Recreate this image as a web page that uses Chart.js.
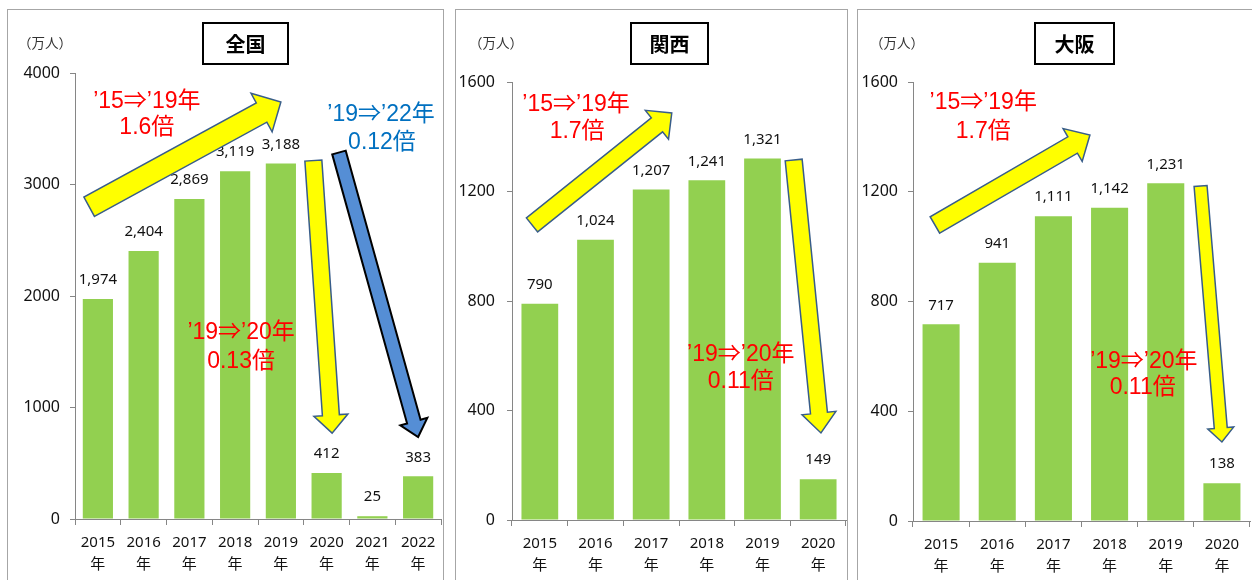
<!DOCTYPE html>
<html lang="ja">
<head>
<meta charset="utf-8">
<title>訪日外客数</title>
<script src="https://cdn.jsdelivr.net/npm/chart.js@4.4.1/dist/chart.umd.min.js"></script>
<style>
  body { margin: 0; width: 1252px; height: 580px; overflow: hidden; background: #fff; position: relative;
         font-family: "Noto Sans CJK JP", sans-serif; }
  .panel { position: absolute; top: 9px; height: 620px; border: 1.5px solid #a6a6a6; box-sizing: border-box; }
  .chart { position: absolute; top: 0; }
  .title { position: absolute; top: 22px; height: 43px; border: 2px solid #000; box-sizing: border-box;
           font-weight: bold; font-size: 20px; display: flex; align-items: center; justify-content: center; }
  .unit { position: absolute; top: 32px; font-size: 13.5px; color: #333; }
</style>
</head>
<body>
<div class="panel" style="left:7px;width:437px"></div>
<div class="panel" style="left:455px;width:393px"></div>
<div class="panel" style="left:857px;width:410px"></div>

<canvas id="zenkoku" class="chart" width="450" height="580" style="left:0"></canvas>
<canvas id="kansai" class="chart" width="400" height="580" style="left:450px"></canvas>
<canvas id="osaka" class="chart" width="402" height="580" style="left:850px"></canvas>

<div class="title" style="left:202px;width:87px">全国</div>
<div class="title" style="left:630px;width:79px">関西</div>
<div class="title" style="left:1034px;width:81px">大阪</div>
<div class="unit" style="left:18px">（万人）</div>
<div class="unit" style="left:469px">（万人）</div>
<div class="unit" style="left:870px">（万人）</div>

<script>
const years = ['2015', '2016', '2017', '2018', '2019', '2020', '2021', '2022'];
const regionYears = years.slice(0, 6);

const zenkokuValues = [1974, 2404, 2869, 3119, 3188, 412, 25, 383];
const kansaiValues = [790, 1024, 1207, 1241, 1321, 149];
const osakaValues = [717, 941, 1111, 1142, 1231, 138];

const zenkokuTicks = [0, 1000, 2000, 3000, 4000];
const regionTicks = [0, 400, 800, 1200, 1600];

// arrows and notes are placed in axis units: [category index, value]
const YELLOW = { fill: '#ffff00', stroke: '#385d8a', lineWidth: 1.5 };
const BLUE = { fill: '#558ed5', stroke: '#000000', lineWidth: 2 };
const RED = '#ff0000';
const TEAL = '#0070c0';

const zenkokuArrows = [
  { from: [-0.19, 2800], to: [4.0, 3740], shaft: 11, head: 22, len: 22, ...YELLOW },
  { from: [4.71, 3215], to: [5.12, 770], shaft: 8.5, head: 17, len: 18, ...YELLOW },
  { from: [5.27, 3287], to: [7.0, 735], shaft: 7, head: 14, len: 16, ...BLUE },
];
const zenkokuNotes = [
  ['’15⇒’19年', 1.07, 3740, RED], ['1.6倍', 1.07, 3507, RED],
  ['’19⇒’22年', 6.19, 3623, TEAL], ['0.12倍', 6.21, 3372, TEAL],
  ['’19⇒’20年', 3.13, 1668, RED], ['0.13倍', 3.13, 1408, RED],
];

const kansaiArrows = [
  { from: [-0.14, 1078], to: [2.37, 1487], shaft: 9, head: 18.5, len: 19, ...YELLOW },
  { from: [4.56, 1315], to: [5.05, 318], shaft: 8.5, head: 17, len: 20, ...YELLOW },
];
const kansaiNotes = [
  ['’15⇒’19年', 0.65, 1516, RED], ['1.7倍', 0.67, 1417, RED],
  ['’19⇒’20年', 3.61, 603, RED], ['0.11倍', 3.61, 504, RED],
];

const osakaArrows = [
  { from: [-0.11, 1079], to: [2.65, 1407], shaft: 9.5, head: 19, len: 20, ...YELLOW },
  { from: [4.62, 1221], to: [5.0, 288], shaft: 6.5, head: 13, len: 14, ...YELLOW },
];
const osakaNotes = [
  ['’15⇒’19年', 0.75, 1523, RED], ['1.7倍', 0.75, 1418, RED],
  ['’19⇒’20年', 3.61, 579, RED], ['0.11倍', 3.59, 485, RED],
];

const AXIS_GREY = '#868686';
const TEXT = '#111';
const NUM_FONT = '"Noto Sans", "Noto Sans CJK JP", sans-serif';
const NOTE_FONT = '23px "Liberation Sans", "Noto Sans CJK JP", sans-serif';

function drawArrow(ctx, x1, y1, x2, y2, a) {
  const length = Math.hypot(x2 - x1, y2 - y1);
  const ux = (x2 - x1) / length;
  const uy = (y2 - y1) / length;
  const px = -uy;
  const py = ux;
  const bx = x2 - ux * a.len;
  const by = y2 - uy * a.len;
  const pts = [
    [x1 + px * a.shaft, y1 + py * a.shaft],
    [bx + px * a.shaft, by + py * a.shaft],
    [bx + px * a.head, by + py * a.head],
    [x2, y2],
    [bx - px * a.head, by - py * a.head],
    [bx - px * a.shaft, by - py * a.shaft],
    [x1 - px * a.shaft, y1 - py * a.shaft],
  ];
  ctx.beginPath();
  pts.forEach(([x, y], i) => (i ? ctx.lineTo(x, y) : ctx.moveTo(x, y)));
  ctx.closePath();
  ctx.fillStyle = a.fill;
  ctx.fill();
  ctx.lineJoin = 'miter';
  ctx.lineWidth = a.lineWidth;
  ctx.strokeStyle = a.stroke;
  ctx.stroke();
}

const decorations = {
  id: 'decorations',
  afterDatasetsDraw(chart, args, opts) {
    const { ctx, scales: { x, y } } = chart;
    const values = chart.data.datasets[0].data;
    ctx.save();

    ctx.font = `15px ${NUM_FONT}`;
    ctx.fillStyle = TEXT;
    ctx.textAlign = 'center';
    ctx.textBaseline = 'middle';
    chart.getDatasetMeta(0).data.forEach((bar, i) => {
      ctx.fillText(values[i].toLocaleString('en-US'), bar.x, bar.y - 19);
    });

    (opts.arrows || []).forEach((a) => {
      drawArrow(ctx,
        x.getPixelForValue(a.from[0]), y.getPixelForValue(a.from[1]),
        x.getPixelForValue(a.to[0]), y.getPixelForValue(a.to[1]), a);
    });

    ctx.font = NOTE_FONT;
    (opts.notes || []).forEach(([text, i, v, color]) => {
      ctx.fillStyle = color;
      ctx.fillText(text, x.getPixelForValue(i), y.getPixelForValue(v));
    });
    ctx.restore();
  },
};

function makeChart(id, labels, values, ticks, layout, arrows, notes) {
  return new Chart(document.getElementById(id), {
    type: 'bar',
    data: {
      labels,
      datasets: [{
        data: values,
        backgroundColor: '#92d050',
        borderWidth: 0,
        barPercentage: 0.66,
        categoryPercentage: 1,
      }],
    },
    options: {
      responsive: false,
      animation: false,
      layout: { padding: { top: layout.top, right: layout.right, bottom: 0, left: 0 } },
      plugins: {
        legend: { display: false },
        tooltip: { enabled: false },
        decorations: { arrows, notes },
      },
      scales: {
        x: {
          afterFit: (scale) => { scale.height = 580 - layout.bottom; },
          border: { color: AXIS_GREY, width: 1 },
          grid: { offset: true, drawOnChartArea: false, tickLength: 6, color: AXIS_GREY },
          ticks: {
            padding: 7,
            color: TEXT,
            maxRotation: 0,
            font: { family: NUM_FONT, size: 15, lineHeight: 1.47 },
            callback(value) { return [this.getLabelForValue(value), '年']; },
          },
        },
        y: {
          min: 0,
          max: ticks[ticks.length - 1],
          afterBuildTicks: (scale) => { scale.ticks = ticks.map((v) => ({ value: v })); },
          afterFit: (scale) => { scale.width = layout.left; },
          border: { color: AXIS_GREY, width: 1 },
          grid: { drawOnChartArea: false, tickLength: 5, color: AXIS_GREY },
          ticks: {
            padding: layout.tickPad,
            color: TEXT,
            font: { family: NUM_FONT, size: 16 },
            callback: (value) => String(value),
          },
        },
      },
    },
    plugins: [decorations],
  });
}

makeChart('zenkoku', years, zenkokuValues, zenkokuTicks,
  { left: 75, right: 9, top: 73, bottom: 519, tickPad: 10 }, zenkokuArrows, zenkokuNotes);
makeChart('kansai', regionYears, kansaiValues, regionTicks,
  { left: 62, right: 4, top: 82, bottom: 520, tickPad: 12 }, kansaiArrows, kansaiNotes);
makeChart('osaka', regionYears, osakaValues, regionTicks,
  { left: 63, right: 2, top: 82, bottom: 521, tickPad: 10 }, osakaArrows, osakaNotes);
</script>
</body>
</html>
